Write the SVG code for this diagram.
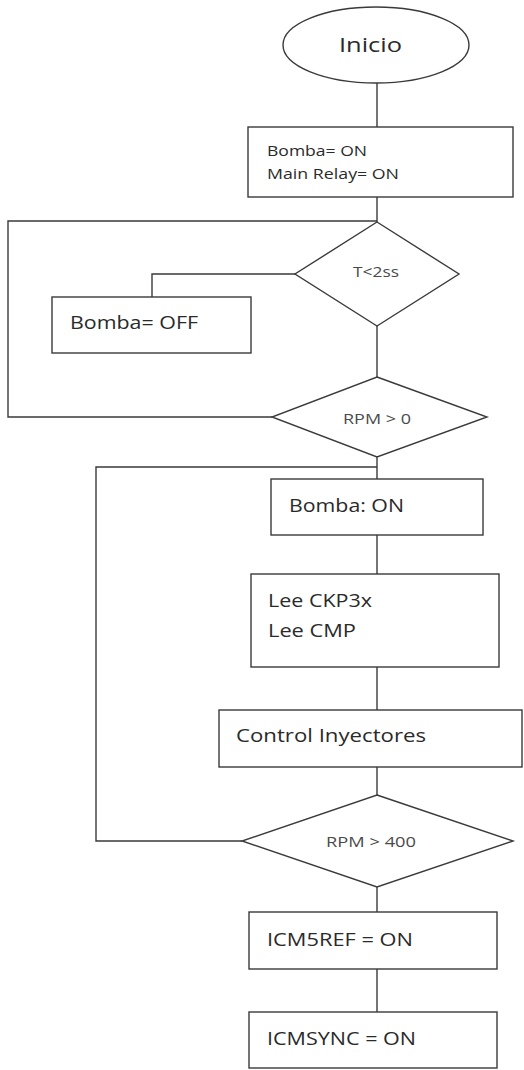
<svg xmlns="http://www.w3.org/2000/svg" width="524" height="1070" viewBox="0 0 524 1070">
<style>
.s{fill:#fff;stroke:#3a3a3a;stroke-width:1.4}
.c{fill:none;stroke:#3a3a3a;stroke-width:1.4}
text{font-family:"Open Sans","Noto Sans",sans-serif;fill:#2a2a2a}
.b{font-size:18px}
.m{font-size:15px}
.d{font-size:14px;fill:#4a4a4a}
</style>
<rect width="524" height="1070" fill="#fff"/>
<g id="connectors">
<path class="c" d="M377 83V127"/>
<path class="c" d="M377 197V222"/>
<path class="c" d="M377 221H8V417H272"/>
<path class="c" d="M295 274H152V297"/>
<path class="c" d="M377 326V377"/>
<path class="c" d="M377 456V479"/>
<path class="c" d="M377 467H96V841H242"/>
<path class="c" d="M377 535V574"/>
<path class="c" d="M377 667V710"/>
<path class="c" d="M377 767V795"/>
<path class="c" d="M377 887V912"/>
<path class="c" d="M377 969V1012"/>
</g>
<g id="inicio">
<ellipse class="s" cx="376" cy="45" rx="93" ry="38"/>
<text x="339" y="52" style="font-size:20px" textLength="63" lengthAdjust="spacingAndGlyphs">Inicio</text>
</g>
<g id="bomba-on-main">
<rect class="s" x="248" y="127" width="265" height="70"/>
<text class="m" x="267" y="156" textLength="100" lengthAdjust="spacingAndGlyphs">Bomba= ON</text>
<text class="m" x="267" y="179" textLength="132" lengthAdjust="spacingAndGlyphs">Main Relay= ON</text>
</g>
<g id="t2ss">
<polygon class="s" points="377,222 459,274 377,326 295,274"/>
<text class="d" x="353" y="277" textLength="46" lengthAdjust="spacingAndGlyphs">T&lt;2ss</text>
</g>
<g id="bomba-off">
<rect class="s" x="52" y="297" width="199" height="56"/>
<text class="b" x="70" y="329" textLength="128" lengthAdjust="spacingAndGlyphs">Bomba= OFF</text>
</g>
<g id="rpm0">
<polygon class="s" points="377,377 487,417 377,457 272,417"/>
<text class="d" x="343" y="424" textLength="68" lengthAdjust="spacingAndGlyphs">RPM &gt; 0</text>
</g>
<g id="bomba-on">
<rect class="s" x="271" y="479" width="212" height="56"/>
<text class="b" x="289" y="512" textLength="115" lengthAdjust="spacingAndGlyphs">Bomba: ON</text>
</g>
<g id="lee">
<rect class="s" x="251" y="574" width="248" height="93"/>
<text class="b" x="268" y="607" textLength="104" lengthAdjust="spacingAndGlyphs">Lee CKP3x</text>
<text class="b" x="268" y="637" textLength="88" lengthAdjust="spacingAndGlyphs">Lee CMP</text>
</g>
<g id="control">
<rect class="s" x="219" y="710" width="303" height="57"/>
<text class="b" x="236" y="742" textLength="190" lengthAdjust="spacingAndGlyphs">Control Inyectores</text>
</g>
<g id="rpm400">
<polygon class="s" points="377,795 513,841 377,887 242,841"/>
<text class="d" x="326" y="847" textLength="90" lengthAdjust="spacingAndGlyphs">RPM &gt; 400</text>
</g>
<g id="icm5ref">
<rect class="s" x="249" y="912" width="248" height="57"/>
<text class="b" x="267" y="946" textLength="146" lengthAdjust="spacingAndGlyphs">ICM5REF = ON</text>
</g>
<g id="icmsync">
<rect class="s" x="249" y="1012" width="248" height="56"/>
<text class="b" x="267" y="1045" textLength="149" lengthAdjust="spacingAndGlyphs">ICMSYNC = ON</text>
</g>
</svg>
